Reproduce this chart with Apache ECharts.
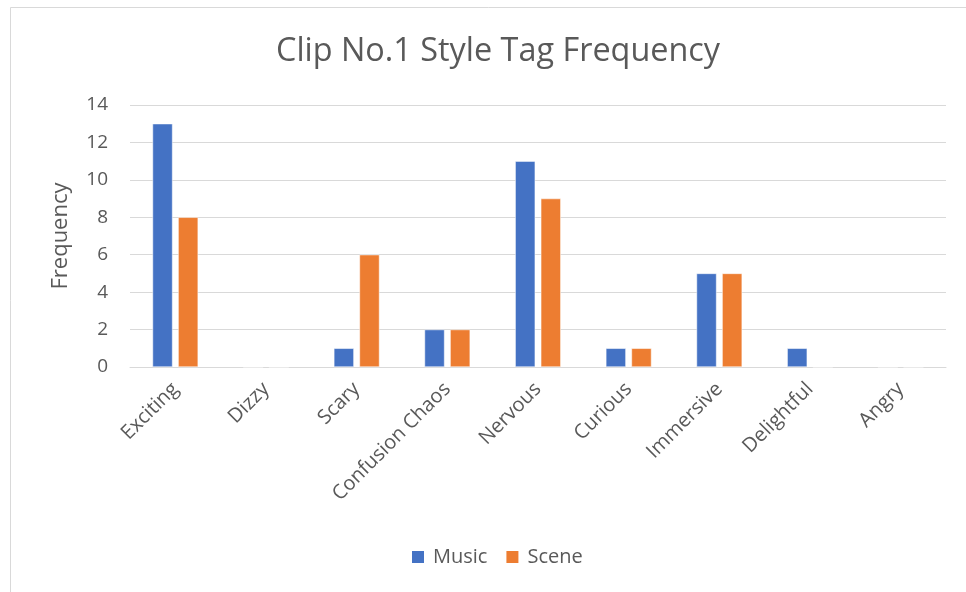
<!DOCTYPE html>
<html>
<head>
<meta charset="utf-8">
<script src="https://cdn.jsdelivr.net/npm/echarts@6/dist/echarts.min.js"></script>
<style>
  html, body { margin: 0; padding: 0; background: #fff; }
  #chart { width: 966px; height: 592px; }
</style>
</head>
<body>
<div id="chart"></div>
<script>
// 标签类别
var categories = ['Exciting', 'Dizzy', 'Scary', 'Confusion Chaos', 'Nervous', 'Curious', 'Immersive', 'Delightful', 'Angry'];
// 两个系列
var musicValues = [13, 0, 1, 2, 11, 1, 5, 1, 0];
var sceneValues = [8, 0, 6, 2, 9, 1, 5, 0, 0];
var yTicks = [0, 2, 4, 6, 8, 10, 12, 14];

var textColor = '#595959';
var fontName = '"Open Sans", "Noto Sans", sans-serif';

var chart = echarts.init(document.getElementById('chart'));

var option = {
  backgroundColor: '#fff',
  animation: false,
  textStyle: { fontFamily: fontName },
  title: {
    text: 'Clip No.1 Style Tag Frequency',
    left: 271,
    top: 31,
    textStyle: { color: textColor, fontSize: 32.4, fontWeight: 'normal', fontFamily: fontName }
  },
  graphic: [{
    type: 'rect',
    shape: { x: 10.5, y: 7.5, width: 970, height: 600 },
    style: { fill: 'none', stroke: '#d9d9d9', lineWidth: 1 },
    silent: true
  }],
  legend: {
    bottom: 20,
    left: 405,
    itemWidth: 14,
    itemHeight: 14,
    itemGap: 17,
    icon: 'rect',
    textStyle: { color: textColor, fontSize: 20, fontFamily: fontName, padding: [0, 0, 0, 3] },
    data: ['Music', 'Scene']
  },
  grid: {
    left: 130,
    right: 20,
    top: 105,
    bottom: 225,
    containLabel: false
  },
  xAxis: {
    type: 'category',
    data: categories,
    axisTick: { show: false },
    axisLine: { lineStyle: { color: '#d9d9d9', width: 1 } },
    axisLabel: {
      rotate: 45,
      color: textColor,
      fontSize: 20,
      margin: 19,
      interval: 0,
      fontFamily: fontName
    }
  },
  yAxis: {
    type: 'value',
    min: yTicks[0],
    max: yTicks[yTicks.length - 1],
    interval: 2,
    name: 'Frequency',
    nameLocation: 'middle',
    nameGap: 58,
    nameRotate: 90,
    nameTextStyle: { color: textColor, fontSize: 22, fontFamily: fontName },
    axisLine: { show: false },
    axisTick: { show: false },
    axisLabel: { color: textColor, fontSize: 19, margin: 22, fontFamily: fontName },
    splitLine: { lineStyle: { color: '#d9d9d9', width: 1 } }
  },
  series: [
    {
      name: 'Music',
      type: 'bar',
      data: musicValues,
      barWidth: 20,
      barGap: '28%',
      itemStyle: { color: '#4472C4', borderColor: '#fff', borderWidth: 0.5 }
    },
    {
      name: 'Scene',
      type: 'bar',
      data: sceneValues,
      barWidth: 20,
      itemStyle: { color: '#ED7D31', borderColor: '#fff', borderWidth: 0.5 }
    }
  ]
};

chart.setOption(option);
</script>
</body>
</html>
